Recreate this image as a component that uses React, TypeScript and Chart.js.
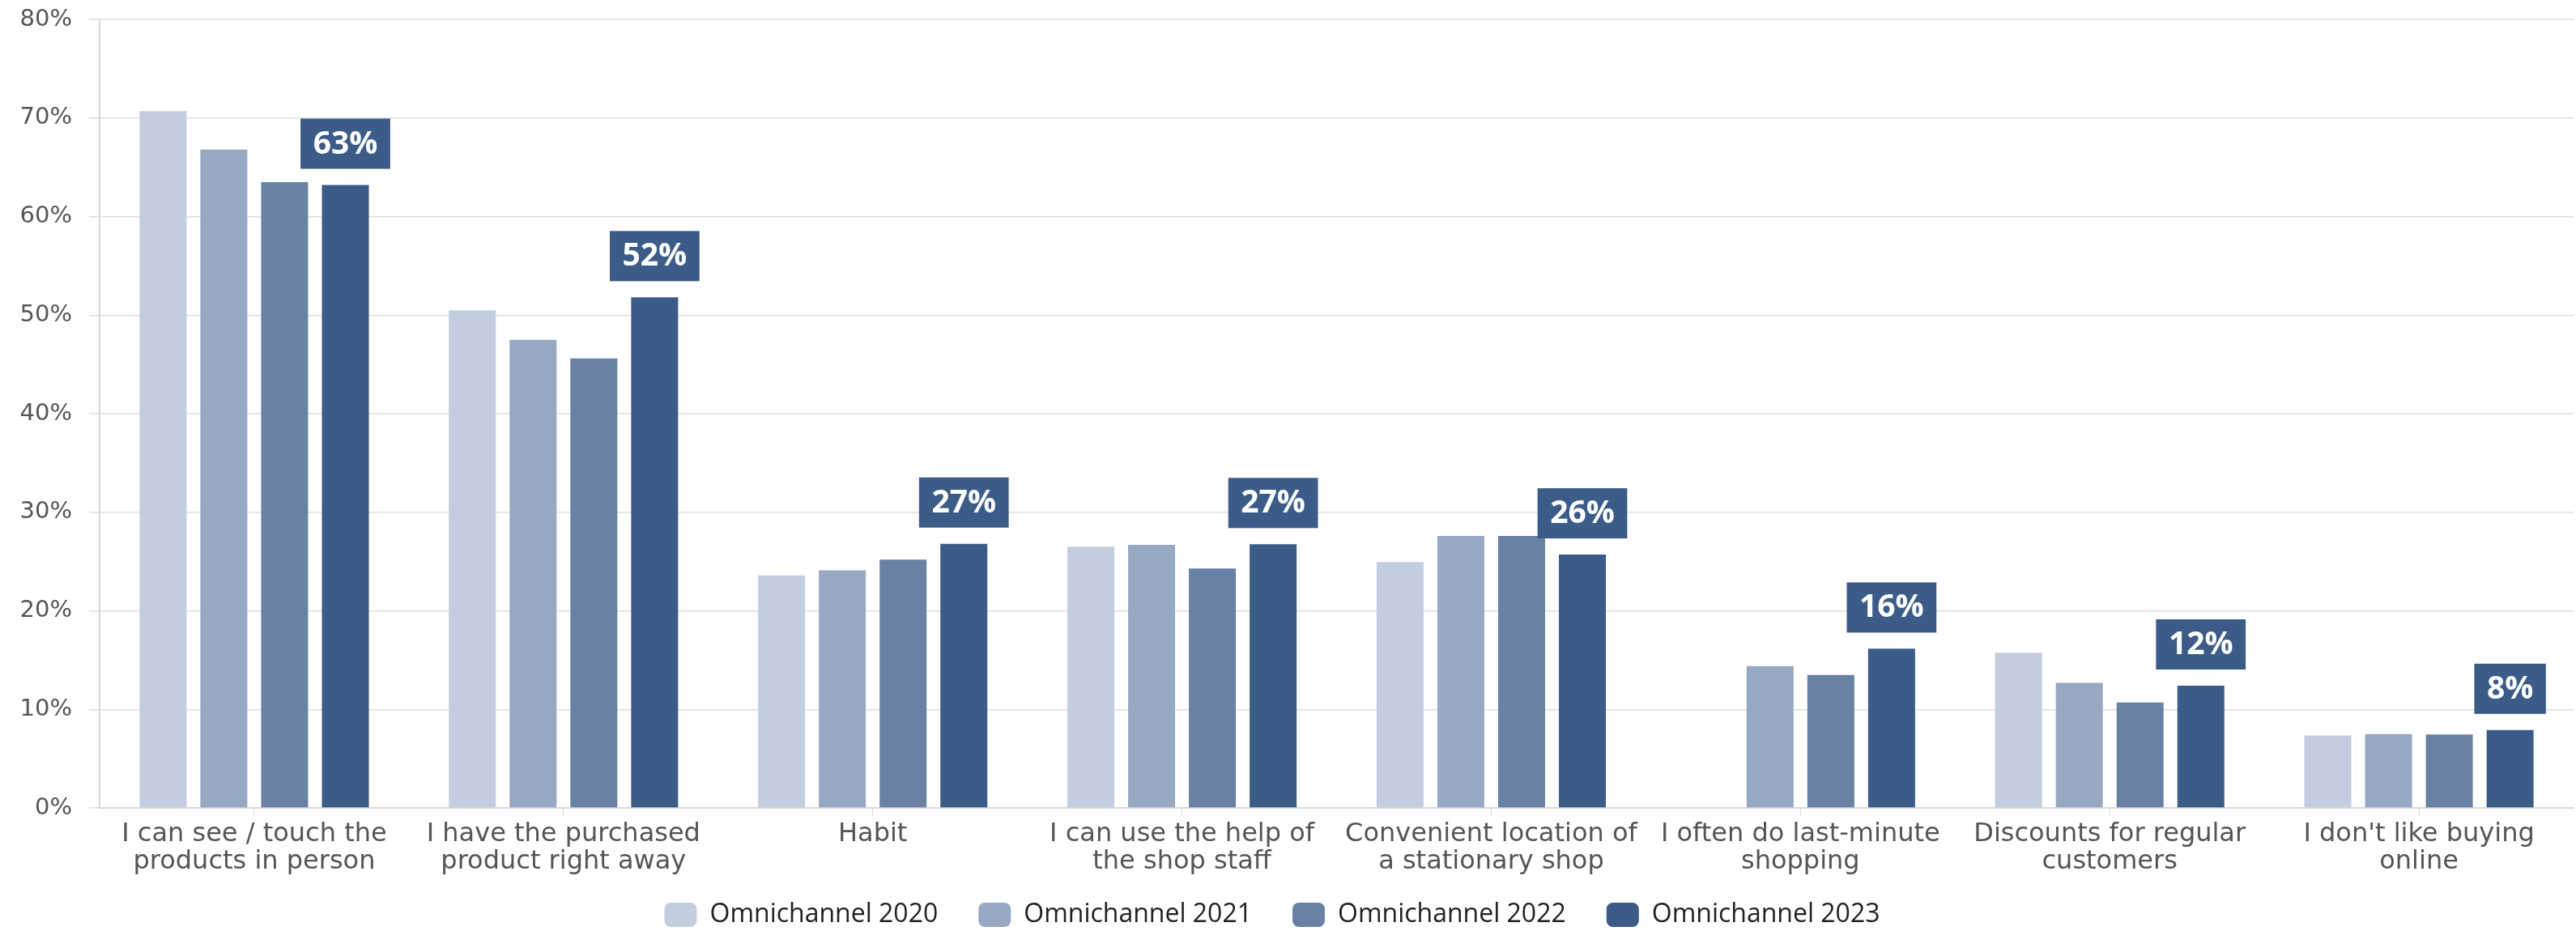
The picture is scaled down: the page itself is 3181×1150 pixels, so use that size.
import React, { useEffect, useRef } from "react";
import { Chart, registerables } from "chart.js";

Chart.register(...registerables);

const categories: string[][] = [
  ["I can see / touch the", "products in person"],
  ["I have the purchased", "product right away"],
  ["Habit"],
  ["I can use the help of", "the shop staff"],
  ["Convenient location of", "a stationary shop"],
  ["I often do last-minute", "shopping"],
  ["Discounts for regular", "customers"],
  ["I don't like buying", "online"],
];

const seriesNames = ["Omnichannel 2020", "Omnichannel 2021", "Omnichannel 2022", "Omnichannel 2023"];
const values2020: (number | null)[] = [70.7, 50.5, 23.6, 26.5, 24.95, null, 15.75, 7.35];
const values2021: (number | null)[] = [66.8, 47.5, 24.1, 26.7, 27.6, 14.4, 12.7, 7.5];
const values2022: (number | null)[] = [63.5, 45.6, 25.2, 24.3, 27.6, 13.5, 10.7, 7.45];
const values2023: (number | null)[] = [63.2, 51.8, 26.8, 26.75, 25.7, 16.15, 12.4, 7.9];
const seriesColors = ["#c2cde0", "#97a8c3", "#6881a4", "#3b5c88"];
const yTicks = [0, 10, 20, 30, 40, 50, 60, 70, 80];

const W = 3181;
const H = 1150;

const labelPlugin = {
  id: "boxLabels",
  afterLayout(chart: any) {
    const lg = chart.legend;
    if (lg) {
      lg.left -= 18;
      lg.right -= 18;
    }
  },
  afterDatasetsDraw(chart: any) {
    const ctx = chart.ctx;
    const dsIndex = 3;
    const meta = chart.getDatasetMeta(dsIndex);
    const data = chart.data.datasets[dsIndex].data;
    ctx.save();
    ctx.font = "bold 39px 'Open Sans'";
    ctx.textAlign = "center";
    ctx.textBaseline = "middle";
    meta.data.forEach((el: any, i: number) => {
      const v = data[i];
      if (v == null) return;
      const text = Math.round(v) + "%";
      const tw = ctx.measureText(text).width;
      const bw = tw + 31;
      const bh = 62;
      const bottom = el.y - 20;
      ctx.fillStyle = seriesColors[3];
      ctx.fillRect(el.x - bw / 2, bottom - bh, bw, bh);
      ctx.fillStyle = "#ffffff";
      ctx.fillText(text, el.x, bottom - bh / 2 + 1);
    });
    ctx.restore();
  },
};

export default function App() {
  const ref = useRef<HTMLCanvasElement | null>(null);
  useEffect(() => {
    document.body.style.margin = "0";
    const canvas = ref.current!;
    const allValues = [values2020, values2021, values2022, values2023];
    const chart = new Chart(canvas, {
      type: "bar",
      data: {
        labels: categories,
        datasets: seriesNames.map((name, i) => ({
          label: name,
          data: allValues[i],
          backgroundColor: seriesColors[i],
          borderWidth: 0,
          categoryPercentage: 0.786,
          barPercentage: 0.773,
        })),
      },
      options: {
        responsive: false,
        animation: false,
        devicePixelRatio: 1,
        layout: { padding: { top: 24, right: 3, left: 0, bottom: -6 } },
        plugins: {
          tooltip: { enabled: false },
          legend: {
            position: "bottom",
            labels: {
              font: { family: "'Open Sans'", size: 32 },
              color: "#222222",
              boxWidth: 40,
              boxHeight: 30,
              useBorderRadius: true,
              borderRadius: 8,
              padding: 50,
            },
          },
        },
        scales: {
          x: {
            grid: {
              display: true,
              drawOnChartArea: false,
              drawTicks: true,
              tickLength: 10,
              offset: false,
              color: "#d8d8d8",
              lineWidth: 1,
            },
            border: { display: true, color: "#d8d8d8", width: 2 },
            ticks: {
              font: { family: "'DejaVu Sans'", size: 32, lineHeight: 1.075 },
              color: "#555555",
              padding: 5,
              maxRotation: 0,
              autoSkip: false,
            },
            afterFit(scale: any) {
              scale.height = 66;
              scale.paddingLeft = 0;
              scale.paddingRight = 0;
              scale._computeLabelArea = () => undefined;
            },
          },
          y: {
            min: 0,
            max: 80,
            afterBuildTicks(scale: any) {
              scale.ticks = yTicks.map((v) => ({ value: v }));
            },
            grid: {
              color: "#dedede",
              lineWidth: 1.5,
              tickLength: 13,
            },
            border: { display: true, color: "#d8d8d8", width: 2 },
            ticks: {
              font: { family: "'DejaVu Sans'", size: 29 },
              color: "#555555",
              padding: 21,
              callback: (v: any) => v + "%",
            },
            afterFit(scale: any) {
              scale.width = 123;
              scale.paddingTop = 0;
              scale.paddingBottom = 0;
            },
          },
        },
      },
      plugins: [labelPlugin],
    });
    return () => chart.destroy();
  }, []);
  return (
    <div style={{ position: "absolute", left: 0, top: 0, width: W, height: H }}>
      <canvas ref={ref} width={W} height={H} style={{ width: W, height: H, display: "block" }} />
    </div>
  );
}
